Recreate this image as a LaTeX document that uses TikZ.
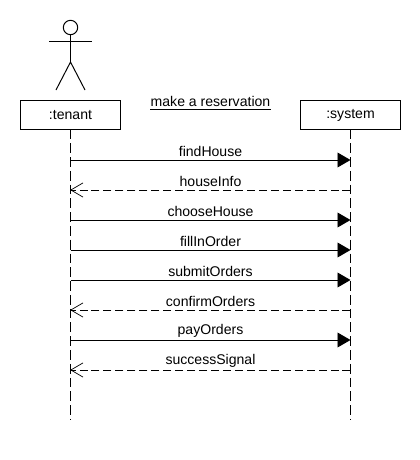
\documentclass[tikz,border=0pt]{standalone}
\usepackage{fontspec}
\setmainfont{Liberation Sans}
\usetikzlibrary{arrows.meta}

\tikzset{
	actorline/.style={line width=0.7pt},
	objbox/.style={draw,line width=0.7pt,minimum width=2.475cm,minimum height=0.7125cm,inner sep=0pt,font=\fontsize{10}{12}\selectfont},
	lifeline/.style={line width=0.7pt,dash pattern=on 7pt off 2.8pt},
	msg/.style={line width=0.7pt,-{Triangle[length=0.325cm,width=0.37cm]}},
	reply/.style={line width=0.7pt,dash pattern=on 5.7pt off 2.8pt,-{Straight Barb[length=0.3cm,width=0.35cm,line width=0.5pt,round=false]}},
	msglabel/.style={above,inner sep=0pt,yshift=1.7pt,font=\fontsize{10}{12}\selectfont}
}

\begin{document}
\begin{tikzpicture}[x=0.025cm,y=-0.025cm]
	 \useasboundingbox (0,0) rectangle (420,460);
	 % actor
	 \node (head) [draw,actorline,circle,minimum size=0.36cm,inner sep=0pt] at (70.5,27.5) {};
	 \coordinate (neck) at (70.5,41);
	 \coordinate (hip) at (70.5,62);
	 \coordinate (handL) at (49,41);
	 \coordinate (handR) at (92,41);
	 \coordinate (footL) at (56,90);
	 \coordinate (footR) at (85,90);
	 \draw[actorline] (head) -- (hip);
	 \draw[actorline] (handL) -- (handR);
	 \draw[actorline] (footL) -- (hip) -- (footR);
	 % title
	 \node (title) [inner xsep=0pt,inner ysep=2.2pt,font=\fontsize{10}{12}\selectfont] at (210.5,101) {make a reservation};
	 \draw[line width=0.7pt] (title.south west) -- (title.south east);
	 % objects
	 \node (tenant) [objbox] at (70.5,115) {:tenant};
	 \node (system) [objbox] at (350.5,115) {:system};
	 \coordinate (tenantEnd) at (70.5,420);
	 \coordinate (systemEnd) at (350.5,420);
	 \draw[lifeline] (tenant) ++(0,14.5) -- (tenantEnd);
	 \draw[lifeline] (system) ++(0,14.5) -- (systemEnd);
	 % messages
	 \coordinate (t1) at (70.5,160); \coordinate (s1) at (350.5,160);
	 \coordinate (t2) at (70.5,190); \coordinate (s2) at (350.5,190);
	 \coordinate (t3) at (70.5,220); \coordinate (s3) at (350.5,220);
	 \coordinate (t4) at (70.5,250); \coordinate (s4) at (350.5,250);
	 \coordinate (t5) at (70.5,280); \coordinate (s5) at (350.5,280);
	 \coordinate (t6) at (70.5,310); \coordinate (s6) at (350.5,310);
	 \coordinate (t7) at (70.5,340); \coordinate (s7) at (350.5,340);
	 \coordinate (t8) at (70.5,370); \coordinate (s8) at (350.5,370);
	 \draw[msg] (t1) -- node[msglabel] {findHouse} (s1);
	 \draw[reply] (s2) -- node[msglabel] {houseInfo} (t2);
	 \draw[msg] (t3) -- node[msglabel] {chooseHouse} (s3);
	 \draw[msg] (t4) -- node[msglabel] {fillInOrder} (s4);
	 \draw[msg] (t5) -- node[msglabel] {submitOrders} (s5);
	 \draw[reply] (s6) -- node[msglabel] {confirmOrders} (t6);
	 \draw[msg] (t7) -- node[msglabel] {payOrders} (s7);
	 \draw[reply] (s8) -- node[msglabel] {successSignal} (t8);
\end{tikzpicture}
\end{document}
